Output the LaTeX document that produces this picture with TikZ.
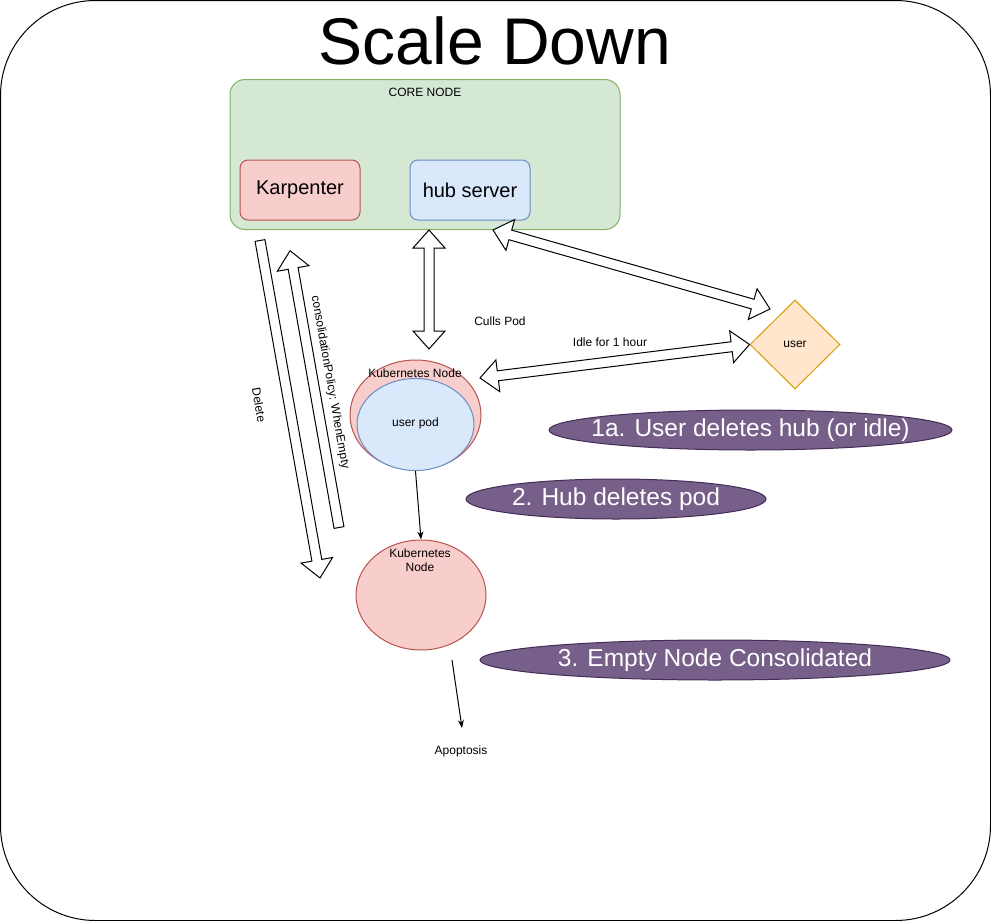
\documentclass[tikz,border=0pt]{standalone}
\usepackage{fontspec}
\setmainfont{Liberation Sans}
\usetikzlibrary{shapes.geometric,calc,arrows.meta}
\definecolor{gfill}{HTML}{D5E8D4}\definecolor{gline}{HTML}{82B366}
\definecolor{rfill}{HTML}{F8CECC}\definecolor{rline}{HTML}{B85450}
\definecolor{bfill}{HTML}{DAE8FC}\definecolor{bline}{HTML}{6C8EBF}
\definecolor{ofill}{HTML}{FFE6CC}\definecolor{oline}{HTML}{D79B00}
\definecolor{pfill}{HTML}{76608A}\definecolor{pline}{HTML}{432D57}
\newcommand\fatArrowTwo[2]{%
  \coordinate (fa1) at ($(#1)!18pt!(#2)$);
  \coordinate (fa2) at ($(#2)!18pt!(#1)$);
  \draw[fatarrow] ($(fa1)!5pt!90:(#2)$) -- ($(fa2)!5pt!-90:(#1)$) -- ($(fa2)!16pt!-90:(#1)$) -- (#2)
    -- ($(fa2)!16pt!90:(#1)$) -- ($(fa2)!5pt!90:(#1)$) -- ($(fa1)!5pt!-90:(#2)$) -- ($(fa1)!16pt!-90:(#2)$)
    -- (#1) -- ($(fa1)!16pt!90:(#2)$) -- cycle;
}
\newcommand\fatArrowOne[2]{%
  \coordinate (fa2) at ($(#2)!18pt!(#1)$);
  \draw[fatarrow] ($(#1)!5pt!90:(#2)$) -- ($(fa2)!5pt!-90:(#1)$) -- ($(fa2)!16pt!-90:(#1)$) -- (#2)
    -- ($(fa2)!16pt!90:(#1)$) -- ($(fa2)!5pt!90:(#1)$) -- ($(#1)!5pt!-90:(#2)$) -- cycle;
}
\begin{document}
\begin{tikzpicture}[x=1pt,y=-1pt,line width=1pt,
  fatarrow/.style={draw=black,fill=white,line join=miter},
  small/.style={font=\fontsize{12}{14}\selectfont,inner sep=0pt,align=center},
  box/.style={rounded corners=8pt,minimum width=120pt,minimum height=60pt,font=\fontsize{20}{24}\selectfont},
  stepell/.style={ellipse,draw=pline,fill=pfill,minimum height=40pt,inner sep=0pt},
  steptxt/.style={text=white,inner sep=0pt,font=\fontsize{24.5}{28}\selectfont},
  thin/.style={draw=black,-{Stealth[length=8pt,width=6pt]}}]
\useasboundingbox (0,0) rectangle (991,921);
\draw[rounded corners=95pt] (0.5,0.5) rectangle (990.5,920.5);
\node[font=\fontsize{66}{79}\selectfont,anchor=base,inner sep=0pt] (title) at (495,64) {Scale Down};
% core node
\node[draw=gline,fill=gfill,rounded corners=15pt,minimum width=390pt,minimum height=150pt] (core) at (425,154.5) {};
\node[small] (corelbl) at (425,92.5) {CORE NODE};
\node[box,draw=rline,fill=rfill] (karp) at (300,190) {Karpenter};
\node[box,draw=bline,fill=bfill] (hub) at (470,190) {hub server};
% kubernetes nodes
\node[ellipse,draw=rline,fill=rfill,minimum width=131pt,minimum height=110pt] (kn1) at (415.5,415) {};
\node[ellipse,draw=bline,fill=bfill,minimum width=117pt,minimum height=92pt] (pod) at (415.5,424.5) {};
\node[small] (podlbl) at (415.5,423) {user pod};
\node[small] (kn1lbl) at (415,373) {Kubernetes Node};
\node[ellipse,draw=rline,fill=rfill,minimum width=130pt,minimum height=110pt] (kn2) at (421,595) {};
\node[small] (kn2lbl) at (420,560) {Kubernetes\\Node};
% user
\node[diamond,draw=oline,fill=ofill,minimum width=90pt,minimum height=89pt,aspect=1,inner sep=0pt,small] (user) at (795,344.5) {user};
% labels
\node[small] (culls) at (500,321.5) {Culls Pod};
\node[small] (idle) at (610,342) {Idle for 1 hour};
\node[small] (apop) at (461,751.5) {Apoptosis};
\node[small,rotate=-80] (dellbl) at (259,405) {Delete};
\node[small,rotate=-80] (conslbl) at (330,382.5) {consolidationPolicy: WhenEmpty};
% step ellipses
\node[stepell,minimum width=403pt] (s1a) at (750.5,430) {};
\node[steptxt] (s1atxt) at (s1a.center) {1a. User deletes hub (or idle)};
\node[stepell,minimum width=300pt] (s2) at (616,499) {};
\node[steptxt] (s2txt) at (s2.center) {2. Hub deletes pod};
\node[stepell,minimum width=470pt] (s3) at (715,660) {};
\node[steptxt] (s3txt) at (s3.center) {3. Empty Node Consolidated};
% connector end points
\coordinate (hubA) at (429,230); \coordinate (kn1A) at (429,349);
\coordinate (hubB) at (493,230); \coordinate (userB) at (770,309);
\coordinate (kn1C) at (480,378);
\coordinate (karpD) at (260,240.5); \coordinate (kn2D) at (320,578);
\coordinate (kn2E) at (339,527.5); \coordinate (karpE) at (290,250.7);
\coordinate (kn2F) at (452,660); \coordinate (apopF) at (462,728);
% fat arrows
\fatArrowTwo{hubA}{kn1A}
\fatArrowTwo{hubB}{userB}
\fatArrowTwo{kn1C}{user.west}
\fatArrowOne{karpD}{kn2D}
\fatArrowOne{kn2E}{karpE}
% thin arrows
\draw[thin] (pod.south) -- (kn2.north);
\draw[thin] (kn2F) -- (apopF);
\end{tikzpicture}
\end{document}
